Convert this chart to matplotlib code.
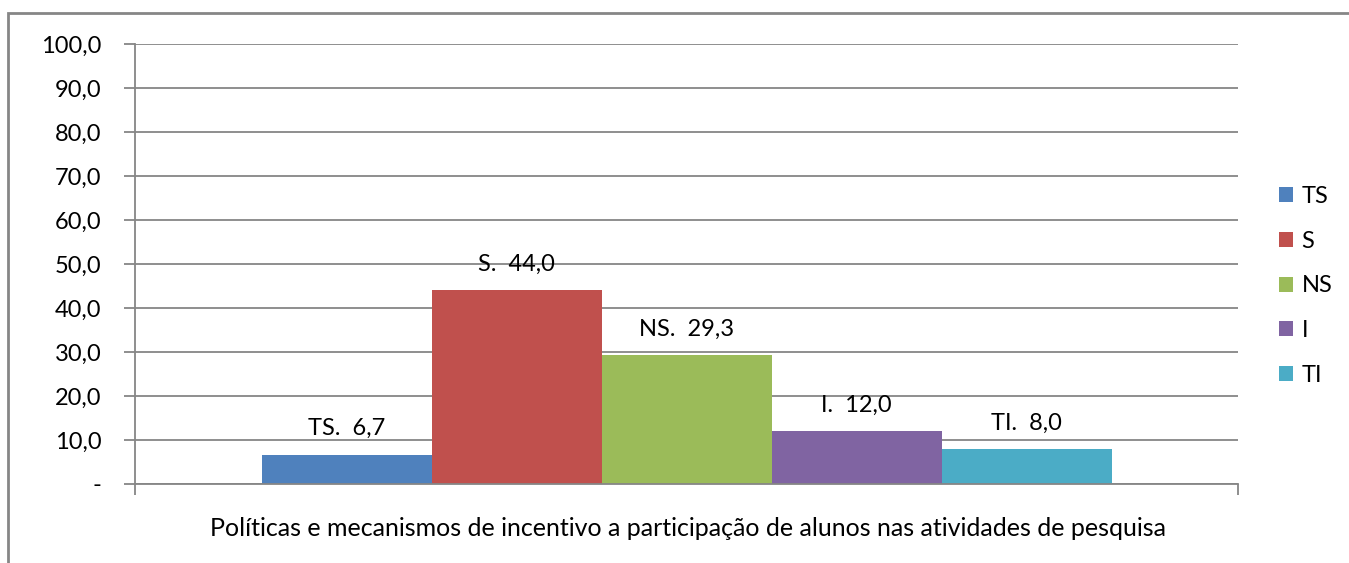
import matplotlib.pyplot as plt
from matplotlib.patches import Rectangle
import numpy as np

categories = ["TS", "S", "NS", "I", "TI"]
values = [6.7, 44.0, 29.3, 12.0, 8.0]
colors = ["#4F81BD", "#C0504D", "#9BBB59", "#8064A2", "#4BACC6"]
yticks = [0, 10, 20, 30, 40, 50, 60, 70, 80, 90, 100]
xlabel = "Políticas e mecanismos de incentivo a participação de alunos nas atividades de pesquisa"

plt.rcParams["font.family"] = ["Lato", "DejaVu Sans"]
FS = 17

W, H = 1349, 563
fig = plt.figure(figsize=(W / 100, H / 100), dpi=100)
ax = fig.add_axes([135 / W, 1 - 484 / H, (1238 - 135) / W, (484 - 44) / H])

# chart border (clipped at right and bottom in the original)
fig.patches.append(Rectangle((8 / W, -0.05), 1.1, 1 - 13 / H + 0.05,
                             transform=fig.transFigure, fill=False,
                             edgecolor="#868686", linewidth=2))

x = np.arange(len(categories)) - (len(categories) - 1) / 2
bars = ax.bar(x, values, width=1.0, color=colors, zorder=2)
half = (1238 - 135) / 170 / 2
ax.set_xlim(-half, half)
ax.set_ylim(0, 100)

for xi, v, c in zip(x, values, categories):
    lbl = f"{c}.  " + f"{v:.1f}".replace(".", ",")
    ax.annotate(lbl, (xi, v), xytext=(0, 14), textcoords="offset points",
                ha="center", va="baseline", fontsize=FS, color="black", zorder=3)

ax.set_yticks(yticks)
ax.set_yticklabels(["-" if t == 0 else f"{t:.1f}".replace(".", ",") for t in yticks],
                   fontsize=FS)
ax.tick_params(axis="y", length=8, width=1.3, color="#868686", pad=16)
ax.set_xticks([-half, half])
ax.set_xticklabels([])
ax.tick_params(axis="x", length=8, width=1.3, color="#868686", direction="out")
ax.grid(axis="y", color="#868686", linewidth=1.3, zorder=0)
ax.set_axisbelow(True)
for s in ["top", "right"]:
    ax.spines[s].set_visible(False)
for s in ["left", "bottom"]:
    ax.spines[s].set_color("#868686")
    ax.spines[s].set_linewidth(1.3)

fig.text(688 / W, 1 - 528 / H, xlabel, ha="center", va="center", fontsize=18)

ax.legend(handles=bars, labels=categories, loc="center left",
          bbox_to_anchor=(1258 / W, 1 - 286 / H), bbox_transform=fig.transFigure,
          frameon=False, fontsize=FS, handlelength=0.6, handleheight=0.6,
          handletextpad=0.35, labelspacing=1.0)

fig.savefig("out.png", dpi=100)
